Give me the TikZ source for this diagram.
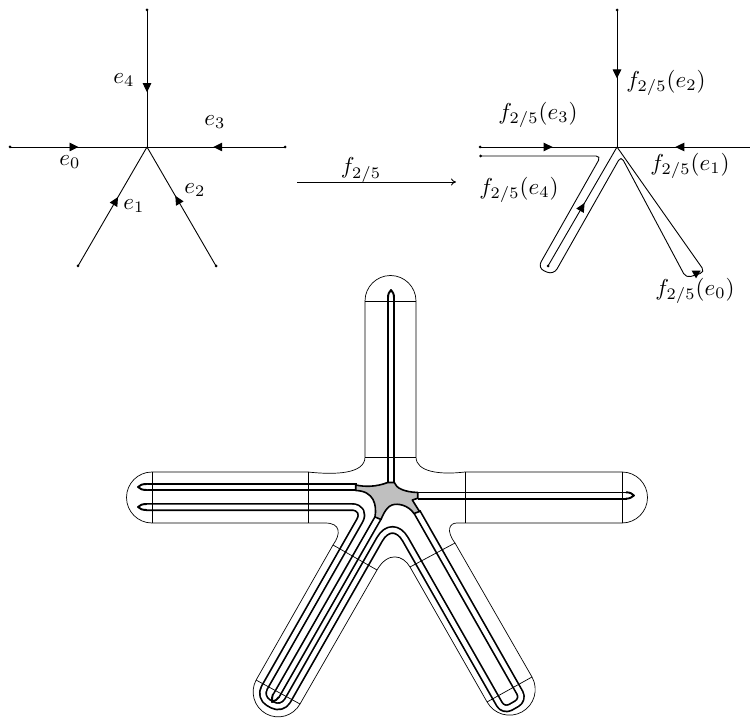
\documentclass[tikz,border=0pt]{standalone}
\usetikzlibrary{arrows.meta, decorations.markings}

\tikzset{
  edgeline/.style={line width=0.9pt},
  midtip/.style={postaction={decorate}, decoration={markings,
      mark=at position #1 with {\arrow{Triangle[length=9pt,width=8.5pt]}}}},
  lbl/.style={scale=2.3, inner sep=0pt},
  strand/.style={line width=1.7pt, double=white, double distance=4.6pt, line join=round},
  tipline/.style={line width=1.9pt, fill=white, line join=round},
  thinline/.style={line width=0.7pt}
}

\begin{document}
\begin{tikzpicture}[x=1pt, y=1pt, yscale=-1]
\useasboundingbox (0,0) rectangle (750,719);

% Source star
\coordinate (c) at (147,147);
\coordinate (t) at (147,10);
\coordinate (l) at (10,147);
\coordinate (r) at (285,147);
\coordinate (bl) at (78,266);
\coordinate (br) at (216,266);
\draw[edgeline, midtip=0.6] (t) -- (c);
\draw[edgeline, midtip=0.5] (l) -- (c);
\draw[edgeline, midtip=0.52] (r) -- (c);
\draw[edgeline, midtip=0.58] (bl) -- (c);
\draw[edgeline, midtip=0.59] (br) -- (c);
\foreach \p in {t,l,r,bl,br} {
    \fill (\p) circle (1.5pt);
}
\node[lbl] (e4) at (124,80) {$e_4$};
\node[lbl] (e3) at (215,122) {$e_3$};
\node[lbl] (e0) at (70,162) {$e_0$};
\node[lbl] (e1) at (134,206) {$e_1$};
\node[lbl] (e2) at (195,190) {$e_2$};

% The map
\coordinate (mapa) at (297,182);
\coordinate (mapb) at (456,182);
\draw[edgeline, -{To[length=5pt,width=7pt]}] (mapa) -- (mapb);
\node[lbl] (map) at (361,170) {$f_{2/5}$};

% Image star
\coordinate (ic) at (617,147);
\coordinate (it) at (617,10);
\coordinate (il) at (480,147);
\coordinate (ir) at (751,147);
\coordinate (il2) at (480.5,156);
\coordinate (ib) at (548,266);
\draw[edgeline, midtip=0.5] (it) -- (ic);
\draw[edgeline, midtip=0.53] (il) -- (ic);
\draw[edgeline, midtip=0.565] (ir) -- (ic);
\draw[edgeline, midtip=0.53] (ib) -- (ic);
\draw[edgeline, rounded corners=5pt] (il2) -- (601,156) [rounded corners=7pt] -- (537.6,268) -- (553.6,275)
    [rounded corners=5pt] -- (621,156) -- (686,278) -- (705,272) -- (ic);
\fill (691.7,270.7) -- (700.7,270.7) -- (696,278.3) -- cycle;
\foreach \p in {it,il,il2,ib} {
    \fill (\p) circle (1.5pt);
}
\node[lbl] (fe2) at (666,83) {$f_{2/5}(e_2)$};
\node[lbl] (fe3) at (538,115) {$f_{2/5}(e_3)$};
\node[lbl] (fe1) at (690,166) {$f_{2/5}(e_1)$};
\node[lbl] (fe4) at (519,190) {$f_{2/5}(e_4)$};
\node[lbl] (fe0) at (695,291) {$f_{2/5}(e_0)$};

% Strands of the thick star
\draw[strand] (391,298) -- (391,483);
\draw[strand] (146,487) -- (357,487);
\draw[strand] (418,495.5) -- (627,495.5);
\draw[strand] (378,518) -- (276,696);
\draw[strand] (146,507) -- (346,507) [rounded corners=16pt] -- (367.5,507) [rounded corners=11pt] -- (258.9,697.3)
    -- (282,710.4) [rounded corners=26pt] -- (392.5,516.7) [rounded corners=8pt] -- (503.5,711.3)
    -- (523.8,699.7) -- (417,512);

% Tips
\draw[tipline] (147,484) .. controls (142,484) and (140,485) .. (138,487) .. controls (140,489) and (142,490) .. (147,490);
\draw[tipline] (147,504) .. controls (142,504) and (140,505) .. (138,507) .. controls (140,509) and (142,510) .. (147,510);
\draw[tipline] (388,298) .. controls (388,294) and (389,292) .. (391,290) .. controls (393,292) and (394,294) .. (394,298);
\draw[tipline] (626,492.3) .. controls (630,492.3) and (632,493.5) .. (634,495.5) .. controls (632,497) and (630,498.7) .. (626,498.7);
\draw[tipline] (273,694) .. controls (272,696) and (272,699) .. (272,702) .. controls (275,701) and (278,699) .. (279,697);

% Hub
\draw[line width=1.6pt, fill=black!25, line join=round] (355.7,485) .. controls (365,487) and (376,487) .. (387.7,482.5)
    -- (394.3,482.5) .. controls (396,488) and (404,492) .. (417.7,492.5) -- (417.7,498.3) -- (412.3,500)
    -- (419.5,511.5) -- (414,513.5) .. controls (408,505) and (398,503) .. (392,505)
    .. controls (388,506) and (384,512) .. (381,519.5) -- (375,517)
    .. controls (377,505) and (374,491) .. (355.7,490.5) -- cycle;

% Outline
\draw[thinline] (308,472) .. controls (335,475) and (365,474) .. (365,457) -- (365,301)
    arc (180:360:25.5pt) -- (416,457) .. controls (416,472) and (440,475) .. (465,472)
    -- (622,472) arc (-90:90:25.5pt) -- (465,523) -- (457,523)
    .. controls (449,523) and (446,531) .. (455,543) -- (532,677) arc (-29:151:25.7pt)
    -- (410,567) .. controls (403,555) and (388,551) .. (377,570) -- (300,704) arc (29:209:25pt)
    -- (333,545) .. controls (341,534) and (341,523) .. (325,523) -- (308,523)
    -- (152,523) arc (90:270:25.5pt) -- cycle;

% Cross lines
\draw[thinline] (152,472) -- (152,523);
\draw[thinline] (308,472) -- (308,523);
\draw[thinline] (465,472) -- (465,523);
\draw[thinline] (622,472) -- (622,523);
\draw[thinline] (365,301) -- (416,301);
\draw[thinline] (365,457) -- (416,457);
\draw[thinline] (333,545) -- (377,570);
\draw[thinline] (410,567) -- (455,543);
\draw[thinline] (256,680) -- (300,704);
\draw[thinline] (487,702) -- (532,677);
\end{tikzpicture}
\end{document}
